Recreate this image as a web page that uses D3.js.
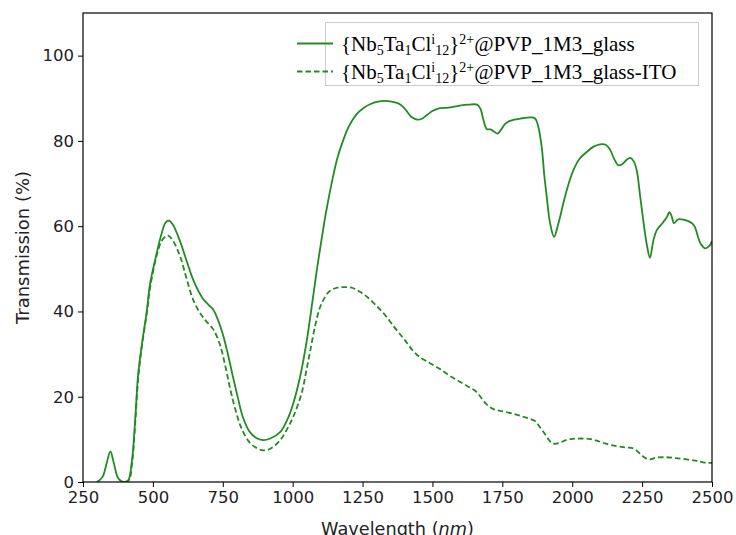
<!DOCTYPE html>
<html><head><meta charset="utf-8">
<script src="https://cdn.jsdelivr.net/npm/d3@7"></script>
<style>body{margin:0;background:#fff;} svg{display:block;}</style>
</head><body>
<script>
const xTicks = [250,500,750,1000,1250,1500,1750,2000,2250,2500];
const yTicks = [0,20,40,60,80,100];
const seriesNames = ["glass","glass-ITO"];
const glass = [[300,0],[320,1.2],[335,4.5],[348,7.2],[360,4.5],[375,1],[390,0.1],[410,0.2],[425,5],[437,15],[447,25],[460,32],[478,40],[490,46.5],[513,53.5],[530,58],[545,60.8],[557,61.3],[570,60.5],[597,56.5],[620,52],[645,47.3],[679,43],[700,41.5],[715,40.5],[730,38.5],[751,34.5],[770,29.5],[787,24.5],[805,19.5],[822,15.2],[847,11.7],[870,10.3],[894,9.8],[920,10.2],[955,11.7],[980,14.5],[1001,18.2],[1026,24.5],[1050,33],[1070,42],[1086,49.5],[1100,55.5],[1120,63.5],[1144,71.5],[1160,76],[1180,80],[1200,83.3],[1229,86.3],[1255,87.8],[1277,88.6],[1305,89.2],[1330,89.4],[1355,89.2],[1378,88.8],[1395,88],[1408,87],[1425,85.6],[1445,85],[1462,85.2],[1479,86],[1500,87],[1520,87.6],[1556,87.8],[1598,88.3],[1630,88.5],[1660,88.5],[1672,87.5],[1682,85],[1694,82.8],[1708,82.7],[1720,82.2],[1733,81.7],[1745,82.6],[1760,84],[1777,84.7],[1819,85.3],[1855,85.5],[1868,85.2],[1878,83.5],[1891,78.5],[1900,72],[1909,66.8],[1920,61],[1935,57.5],[1950,60.5],[1968,65.3],[1985,69.5],[2004,73.1],[2025,75.7],[2052,77.4],[2075,78.6],[2099,79.2],[2120,79.1],[2135,78],[2150,75.8],[2165,74.3],[2180,74.6],[2195,75.6],[2207,76],[2220,75.2],[2231,73],[2243,67],[2254,61.4],[2266,56],[2278,52.6],[2290,56.5],[2302,59],[2326,61],[2340,62.3],[2347,63.3],[2355,62.5],[2364,60.7],[2379,61.6],[2400,61.5],[2415,61.2],[2430,60.6],[2439,59.8],[2450,57.5],[2460,55.8],[2475,54.8],[2490,55.3],[2500,56.5]];
const glassITO = [[400,0],[415,0.5],[425,4],[437,14],[447,24],[460,31.5],[478,39.5],[490,45.5],[513,53],[531,56.5],[545,57.6],[555,57.8],[570,56.8],[597,53],[620,47.8],[645,42.6],[670,39.5],[692,37.6],[716,35.8],[740,32.2],[758,27.5],[776,22],[795,17],[812,13.4],[830,10.8],[847,9.2],[870,8],[895,7.4],[920,7.8],[955,9.8],[980,12.4],[1002,15.3],[1032,20.8],[1050,26.5],[1062,30.5],[1080,36.5],[1098,41],[1115,43.3],[1133,44.8],[1160,45.6],[1187,45.7],[1215,45.5],[1241,44.6],[1270,43.2],[1300,41.3],[1330,39.2],[1360,36.6],[1385,34.6],[1408,32.7],[1430,30.8],[1455,29.3],[1490,27.9],[1527,26.5],[1560,25],[1598,23.5],[1630,22.3],[1658,21.1],[1675,19.7],[1694,18.2],[1718,17.1],[1742,16.7],[1790,16],[1830,15.2],[1867,14.3],[1885,12.8],[1903,11.2],[1920,9.6],[1932,9],[1955,9.2],[1980,9.9],[2000,10.1],[2028,10.2],[2060,10.1],[2087,9.7],[2120,9],[2159,8.4],[2190,8.1],[2218,7.9],[2235,7.1],[2248,6.3],[2262,5.6],[2278,5.3],[2300,5.7],[2338,5.8],[2370,5.6],[2409,5.3],[2440,5],[2457,4.8],[2480,4.5],[2500,4.5]];

const W = 736, H = 535;
const m = {l:83, r:712, t:13, b:482};
const color = "#228B22";
const svg = d3.select("body").append("svg").attr("width", W).attr("height", H);
const x = d3.scaleLinear().domain([250,2500]).range([m.l, m.r]);
const y = d3.scaleLinear().domain([0,110]).range([m.b, m.t]);

const line = d3.line().x(d=>x(d[0])).y(d=>y(d[1])).curve(d3.curveCatmullRom.alpha(0.5));
svg.append("clipPath").attr("id","c").append("rect").attr("x",m.l).attr("y",m.t).attr("width",m.r-m.l).attr("height",m.b-m.t);
const g = svg.append("g").attr("clip-path","url(#c)");
g.append("path").datum(glass).attr("d",line).attr("fill","none").attr("stroke",color).attr("stroke-width",1.8);
g.append("path").datum(glassITO).attr("d",line).attr("fill","none").attr("stroke",color).attr("stroke-width",1.8).attr("stroke-dasharray","5.5,3");

const tickFont = "DejaVu Sans";
const xa = svg.append("g").attr("transform",`translate(0,${m.b})`).call(d3.axisBottom(x).tickValues(xTicks).tickSize(5).tickPadding(4).tickFormat(d3.format("d")));
const ya = svg.append("g").attr("transform",`translate(${m.l},0)`).call(d3.axisLeft(y).tickValues(yTicks).tickSize(5).tickPadding(4).tickFormat(d3.format("d")));
[xa,ya].forEach(a=>{a.selectAll("text").attr("font-family",tickFont).attr("font-size",16.5).attr("fill","#222");
 a.selectAll("line").attr("stroke","#000").attr("stroke-width",1);
 a.select(".domain").remove();});
svg.append("rect").attr("x",m.l).attr("y",m.t).attr("width",m.r-m.l).attr("height",m.b-m.t).attr("fill","none").attr("stroke","#000").attr("stroke-width",1.2);

const xl = svg.append("text").attr("x",(m.l+m.r)/2+0).attr("y",535).attr("text-anchor","middle").attr("font-family",tickFont).attr("font-size",17.7).attr("fill","#222");
xl.append("tspan").text("Wavelength (");
xl.append("tspan").attr("font-style","italic").text("nm");
xl.append("tspan").text(")");
svg.append("text").attr("transform",`translate(29,${(m.t+m.b)/2}) rotate(-90)`).attr("text-anchor","middle").attr("font-family",tickFont).attr("font-size",18).attr("fill","#222").text("Transmission (%)");

// legend
const lg = svg.append("g");
lg.append("rect").attr("x",325.5).attr("y",22.5).attr("width",373).attr("height",63).attr("fill","#fff").attr("stroke","#ccc").attr("stroke-width",1);
const rows = [{name:"@PVP_1M3_glass", dash:null, yy:43.5},{name:"@PVP_1M3_glass-ITO", dash:"5.5,3", yy:71.5}];
rows.forEach(r=>{
  lg.append("line").attr("x1",297).attr("x2",333).attr("y1",r.yy).attr("y2",r.yy).attr("stroke",color).attr("stroke-width",1.8).attr("stroke-dasharray",r.dash);
  const t = lg.append("text").attr("x",341).attr("y",r.yy+7).attr("font-family","Liberation Serif").attr("font-size",21).attr("fill","#000");
  t.append("tspan").text("{Nb");
  t.append("tspan").attr("font-size",14).attr("dy",4.5).text("5");
  t.append("tspan").attr("dy",-4.5).text("Ta");
  t.append("tspan").attr("font-size",14).attr("dy",4.5).text("1");
  t.append("tspan").attr("dy",-4.5).text("Cl");
  t.append("tspan").attr("font-size",14).attr("dy",-7).text("i");
  t.append("tspan").attr("font-size",14).attr("dy",11.5).text("12");
  t.append("tspan").attr("dy",-4.5).text("}");
  t.append("tspan").attr("font-size",14).attr("dy",-7).text("2+");
  t.append("tspan").attr("dy",7).text(r.name);
});
</script>
</body></html>
